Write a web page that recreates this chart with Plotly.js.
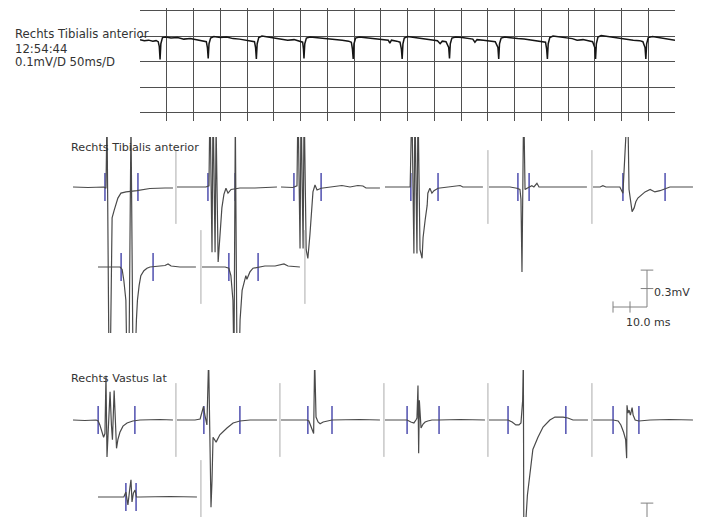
<!DOCTYPE html>
<html><head><meta charset="utf-8">
<script src="https://cdn.plot.ly/plotly-3.0.1.min.js"></script>
<style>html,body{margin:0;padding:0;background:#fff;}#chart{width:702px;height:517px;}</style>
</head><body><div id="chart"></div>
<script>
// ===== Overview sweep: Rechts Tibialis anterior, 0.1 mV/div, 50 ms/div =====
const overviewMs = [0,8,16,24,30,34,36,37.5,39,42,48,58,70,82,94,104,114,120,124,126,127.5,129,132,138,150,162,174,186,198,208,214,216,217.5,219,222,228,240,252,264,276,288,298,304,305.5,306.5,308,311,318,330,342,354,366,378,390,395,397,398.5,400,403,410,420,432,444,456,464,467,470,480,486,488.5,490,491.5,494,500,512,524,536,548,556,561,565,572,577,578.5,580,583,590,602,614,622,626,630,642,654,664,669,670.5,672,675,682,694,706,718,730,742,752,758,760,761.5,763,766,772,784,796,808,817,828,838,846,850,851.5,853,856,862,874,886,898,910,922,934,940,944,945.5,947,950,958,970,982,994,1000];
const overviewMv = [-0.014,-0.018,-0.016,-0.02,-0.018,-0.022,-0.04,-0.092,-0.03,-0.006,-0.004,-0.008,-0.006,-0.012,-0.01,-0.014,-0.016,-0.02,-0.022,-0.045,-0.088,-0.03,-0.008,-0.002,-0.006,-0.004,-0.01,-0.012,-0.016,-0.018,-0.022,-0.045,-0.09,-0.03,-0.006,0.0,-0.004,-0.008,-0.012,-0.016,-0.014,-0.02,-0.024,-0.05,-0.088,-0.03,-0.008,-0.004,-0.006,-0.01,-0.012,-0.014,-0.016,-0.02,-0.024,-0.05,-0.09,-0.03,-0.008,-0.004,-0.006,-0.01,-0.012,-0.014,-0.016,-0.028,-0.016,-0.02,-0.024,-0.05,-0.09,-0.03,-0.008,-0.002,-0.006,-0.008,-0.012,-0.016,-0.018,-0.03,-0.02,-0.022,-0.045,-0.088,-0.03,-0.008,-0.004,-0.006,-0.01,-0.012,-0.024,-0.014,-0.016,-0.018,-0.022,-0.045,-0.09,-0.03,-0.008,-0.004,-0.008,-0.01,-0.012,-0.016,-0.018,-0.022,-0.024,-0.05,-0.09,-0.03,-0.006,0.0,-0.004,-0.008,-0.01,-0.016,-0.014,-0.018,-0.022,-0.045,-0.09,-0.03,-0.004,0.002,-0.002,-0.006,-0.01,-0.012,-0.016,-0.018,-0.022,-0.045,-0.09,-0.03,-0.006,-0.002,-0.006,-0.01,-0.014,-0.016];
const overviewGridMvDiv = 0.1, overviewGridMsDiv = 50;

// ===== Rechts Tibialis anterior MUPs (ms, mV) =====
const tibA1_ms = [0,4.4,9.1,9.7,10.0,10.6,10.9,11.2,11.5,12.1,12.6,13.2,14.1,15.6,18.8,22.6,27.1,29.4];
const tibA1_mv = [0,-0.004,0,-0.01,0.6,-1.5,-1.6,-0.92,-0.25,-0.19,-0.15,-0.09,-0.05,-0.04,-0.03,-0.012,-0.008,-0.008];
const tibA1_marks = [9.4,19.1];
const tibA2_ms = [0,5.3,8.5,9.4,9.7,10.3,10.6,11.2,11.5,12.1,12.6,13.2,13.8,14.4,15.0,15.9,18.5,22.9,29.4];
const tibA2_mv = [0,0,0,0.01,0.7,-0.53,0.7,-0.53,0.5,-0.61,-0.39,-0.17,-0.06,-0.01,-0.05,-0.02,-0.008,-0.008,0];
const tibA2_marks = [9.1,17.1];
const tibA3_ms = [0,2.6,3.5,4.7,5.0,5.6,5.9,6.5,6.8,7.4,7.9,8.5,9.1,9.4,10.0,10.6,11.8,14.4,17.9,20.3,22.6,24.1,25.0,29.1];
const tibA3_mv = [0,0,-0.004,0.01,0.7,-0.5,0.7,-0.5,0.7,-0.51,-0.58,-0.39,-0.2,-0.04,0.016,-0.024,-0.01,0,0.012,0,0.012,0.008,-0.008,-0.008];
const tibA3_marks = [3.8,11.8];
const tibA4_ms = [0,5.9,7.4,7.9,8.5,8.8,9.4,9.7,10.3,10.9,11.2,11.8,12.4,12.6,13.2,13.8,14.4,15.6,19.1,21.2,22.1,22.9,28.8];
const tibA4_mv = [0,0,0,0.7,-0.54,0.7,-0.54,0.7,-0.51,-0.58,-0.41,-0.27,-0.15,-0.05,-0.01,-0.05,-0.03,-0.01,0,0.01,0.012,0,0];
const tibA4_marks = [7.6,15.6];
const tibA5_ms = [0,6.2,8.2,9.1,9.4,9.7,10.2,10.6,11.2,12.6,13.2,14.1,14.7,16.5,28.8];
const tibA5_mv = [0,0,-0.01,-0.02,-0.1,-0.69,0.7,-0.02,-0.01,0.01,0,0.03,0,0,0];
const tibA5_marks = [8.5,11.8];
const tibA6_ms = [0,2.1,2.9,3.8,6.5,7.9,8.8,9.4,9.8,10.2,10.6,11.2,11.5,12.1,12.6,13.2,14.4,15.3,16.8,18.2,19.7,21.2,22.6,25.6,29.4];
const tibA6_mv = [0,0,0.01,0,0,0,-0.05,0.3,0.7,0.7,-0.02,-0.15,-0.2,-0.17,-0.12,-0.09,-0.06,-0.04,-0.02,-0.04,-0.03,-0.016,0,0,0];
const tibA6_marks = [8.8,21.2];
const tibB1_ms = [0,3.5,6.5,7.1,7.6,8.2,8.5,9.1,9.7,10.3,10.9,11.3,11.6,12.1,12.6,13.5,14.4,15.3,18.2,19.7,20.6,21.5,24.1,28.8];
const tibB1_mv = [0,0,0,-0.02,-0.11,-0.27,-0.8,-0.8,1.2,-0.8,-0.8,-0.43,-0.27,-0.15,-0.07,-0.03,-0.01,0,0.008,0.012,0.025,0.008,0,0];
const tibB1_marks = [6.8,16.2];
const tibB2_ms = [0,6.8,7.9,8.5,9.1,9.4,9.8,10.3,10.9,11.2,11.8,12.4,12.9,13.2,14.1,15.0,16.5,18.5,21.5,24.1,25.3,28.8];
const tibB2_mv = [0,0,-0.01,-0.07,-0.27,-0.8,1.2,-0.8,-0.8,-0.43,-0.19,-0.12,-0.07,-0.1,-0.04,-0.01,0,0.008,0.008,0.025,0.008,0];
const tibB2_marks = [7.9,16.5];
const tibSeparatorAfter = [[true,false,false,true,true,false],[true,true]];

// ===== Rechts Vastus lat MUPs (ms, mV) =====
const vasA1_ms = [0,3.5,6.8,7.4,7.9,8.5,9.0,9.4,9.7,10.0,10.3,10.9,11.3,11.6,12.1,12.5,12.8,13.2,13.8,14.7,15.9,17.6,19.7,25.6,29.4];
const vasA1_mv = [0,-0.004,0,-0.008,-0.04,-0.1,-0.14,-0.11,0.36,-0.3,-0.08,0.23,-0.04,-0.16,0.24,-0.08,-0.23,-0.16,-0.1,-0.05,-0.024,-0.008,0,0.004,0];
const vasA1_marks = [7.4,18.2];
const vasA2_ms = [0,5.3,6.8,7.4,7.8,8.2,8.8,9.3,10.0,10.3,10.6,11.5,12.6,14.7,16.5,18.5,21.5,29.4];
const vasA2_mv = [0,0,0.008,0.065,0.11,0.04,-0.04,0.5,-0.71,-0.49,-0.14,-0.18,-0.12,-0.065,-0.024,-0.008,0,0];
const vasA2_marks = [7.9,18.5];
const vasA3_ms = [0,5.6,7.6,8.2,9.1,9.6,9.9,10.3,10.9,11.5,12.4,15.0,23.2,29.1];
const vasA3_mv = [0,0,0,-0.008,-0.08,-0.11,0.5,0.024,-0.016,-0.03,-0.016,0,0.004,0];
const vasA3_marks = [7.9,15.0];
const vasA4_ms = [0,4.4,6.5,7.6,8.5,9.1,9.4,9.7,9.9,10.1,10.6,11.2,11.8,12.6,13.8,15.9,22.1,29.4];
const vasA4_mv = [0,0,0,-0.016,-0.024,0,0.016,0.28,-0.27,0.16,-0.065,-0.033,-0.016,-0.008,0,0,0.004,0];
const vasA4_marks = [6.5,15.9];
const vasA5_ms = [0,3.2,5.6,6.8,7.9,8.8,9.4,9.9,10.1,10.3,10.6,10.9,11.3,12.1,12.9,14.4,15.9,17.9,19.4,21.8,23.2,24.7,29.1];
const vasA5_mv = [0,0,0,-0.016,-0.04,-0.04,-0.024,0.16,0.5,-1.5,-1.14,-0.79,-0.61,-0.41,-0.24,-0.14,-0.057,0,0.024,0.024,0.016,0,0];
const vasA5_marks = [5.6,22.6];
const vasA6_ms = [0,3.5,5.9,7.4,8.2,9.0,9.6,9.9,10.0,10.3,10.6,11.0,11.5,11.8,12.4,13.5,16.8,22.6,29.4];
const vasA6_mv = [0,0,0,-0.008,-0.04,-0.1,-0.16,-0.31,0.12,0.057,0.08,0.04,0.1,0.04,0,-0.008,0,0.004,0];
const vasA6_marks = [5.9,13.5];
const vasB1_ms = [0,5.0,7.6,8.2,8.8,9.4,9.7,10.0,10.4,10.9,11.3,12.4,21.2,29.1];
const vasB1_mv = [0,0,0,0.04,-0.065,0.08,0.14,-0.04,0.03,0.057,0,0,0.004,0];
const vasB1_marks = [8.2,11.2];
const vasSeparatorAfter = [[true,true,true,true,true,false],[true]];

// calibration bar
const scaleBarMs = 10, scaleBarMv = 0.3;
const separatorMs = 30.3, separatorHalfMv = 0.3;

// ===== texts =====
const headerLines = ['Rechts Tibialis anterior','12:54:44','0.1mV/D 50ms/D'];
const sectionTitles = ['Rechts Tibialis anterior','Rechts Vastus lat'];

// ================= layout machinery =================
const W = 702, H = 517;
const PX_MS = 3.4, PX_MV = 123, COL_PITCH = 104;
const xdom = (a,b) => [Math.max(0,a/W), Math.min(1,b/W)];
const ydom = (top,bot) => [Math.max(0,1-bot/H), Math.min(1,1-top/H)];
const traces = [];
const layout = {width:W,height:H,margin:{l:0,r:0,t:0,b:0},paper_bgcolor:'#ffffff',plot_bgcolor:'rgba(0,0,0,0)',showlegend:false,annotations:[],hovermode:false};
let axN = 0;
function addAxes(xd, yd, xr, yr, ex, ey){
  axN++;
  const s = axN===1 ? '' : String(axN);
  layout['xaxis'+s] = Object.assign({domain:xd,range:xr,visible:false,fixedrange:true,anchor:'y'+s}, ex||{});
  layout['yaxis'+s] = Object.assign({domain:yd,range:yr,visible:false,fixedrange:true,anchor:'x'+s}, ey||{});
  return {x:'x'+s, y:'y'+s};
}

// --- overview panel ---
const ovTickMs = []; for (let t = overviewGridMsDiv; t < 1000; t += overviewGridMsDiv) ovTickMs.push(t);
const ovTickMv = []; for (let k = 1; k >= -3; k--) ovTickMv.push(+(k*overviewGridMvDiv).toFixed(2));
const gridStyle = {visible:true,showgrid:true,gridcolor:'#4f4f4f',gridwidth:1,tickmode:'array',showticklabels:false,ticks:'',zeroline:false,showline:false};
const ov = addAxes(xdom(140,675), ydom(8,121), [0,1000], [-0.333,0.11],
  Object.assign({}, gridStyle, {tickvals:ovTickMs}), Object.assign({}, gridStyle, {tickvals:ovTickMv}));
traces.push({type:'scatter',mode:'lines',x:overviewMs,y:overviewMv,xaxis:ov.x,yaxis:ov.y,line:{color:'#151515',width:1.5}});

// --- MUP sections ---
const sections = [
  {topPx:137, botPx:333, rows:[{base:187,start:73},{base:267,start:98}], sep:tibSeparatorAfter,
   wins:[[[tibA1_ms,tibA1_mv,tibA1_marks],[tibA2_ms,tibA2_mv,tibA2_marks],[tibA3_ms,tibA3_mv,tibA3_marks],[tibA4_ms,tibA4_mv,tibA4_marks],[tibA5_ms,tibA5_mv,tibA5_marks],[tibA6_ms,tibA6_mv,tibA6_marks]],
         [[tibB1_ms,tibB1_mv,tibB1_marks],[tibB2_ms,tibB2_mv,tibB2_marks]]],
   title:sectionTitles[0], titleY:147, scaleCorner:[647,307], labels:true},
  {topPx:370, botPx:566, rows:[{base:420,start:73},{base:497,start:98}], sep:vasSeparatorAfter,
   wins:[[[vasA1_ms,vasA1_mv,vasA1_marks],[vasA2_ms,vasA2_mv,vasA2_marks],[vasA3_ms,vasA3_mv,vasA3_marks],[vasA4_ms,vasA4_mv,vasA4_marks],[vasA5_ms,vasA5_mv,vasA5_marks],[vasA6_ms,vasA6_mv,vasA6_marks]],
         [[vasB1_ms,vasB1_mv,vasB1_marks]]],
   title:sectionTitles[1], titleY:378, scaleCorner:[647,540], labels:false}
];

sections.forEach(sec => {
  const bot = Math.min(sec.botPx, H);
  sec.rows.forEach((row, r) => {
    sec.wins[r].forEach((w, c) => {
      const s = row.start + c*COL_PITCH;
      const ax = addAxes(xdom(s-0.5*PX_MS, s+30.5*PX_MS), ydom(sec.topPx, bot), [-0.5,30.5],
        [-(bot-row.base)/PX_MV, (row.base-sec.topPx)/PX_MV]);
      if (sec.sep[r][c]) {
        traces.push({type:'scatter',mode:'lines',x:[separatorMs,separatorMs],y:[-separatorHalfMv,separatorHalfMv],xaxis:ax.x,yaxis:ax.y,line:{color:'#9c9c9c',width:1}});
      }
      traces.push({type:'scatter',mode:'markers',x:w[2],y:w[2].map(()=>0),xaxis:ax.x,yaxis:ax.y,cliponaxis:false,
        marker:{symbol:'line-ns',size:20,color:'#5a5ab4',line:{color:'#5a5ab4',width:1.6}}});
      traces.push({type:'scatter',mode:'lines',x:w[0],y:w[1],xaxis:ax.x,yaxis:ax.y,line:{color:'#4a4a4a',width:1.2}});
    });
  });
  // calibration bar
  const [cx, cy] = sec.scaleCorner;
  const sTop = cy - 57, sBot = Math.min(cy + 33, H);
  const ax = addAxes(xdom(600,702), ydom(sTop, sBot), [-(cx-600)/PX_MS, (702-cx)/PX_MS], [-(sBot-cy)/PX_MV, (cy-sTop)/PX_MV]);
  traces.push({type:'scatter',mode:'lines',x:[-scaleBarMs,0,0],y:[0,0,scaleBarMv],xaxis:ax.x,yaxis:ax.y,line:{color:'#808080',width:1}});
  traces.push({type:'scatter',mode:'markers',x:[-scaleBarMs,-scaleBarMs/2],y:[0,0],xaxis:ax.x,yaxis:ax.y,cliponaxis:false,
    marker:{symbol:'line-ns',size:8,line:{color:'#808080',width:1}}});
  traces.push({type:'scatter',mode:'markers',x:[0,0],y:[scaleBarMv/2,scaleBarMv],xaxis:ax.x,yaxis:ax.y,cliponaxis:true,
    marker:{symbol:'line-ew',size:9,line:{color:'#808080',width:1}}});
  if (sec.labels) {
    layout.annotations.push({xref:ax.x,yref:ax.y,x:1.6,y:0.114,xanchor:'left',yanchor:'middle',showarrow:false,text:scaleBarMv+'mV',font:{family:'DejaVu Sans',size:11,color:'#333'}});
    layout.annotations.push({xref:ax.x,yref:ax.y,x:0.3,y:-0.122,xanchor:'center',yanchor:'middle',showarrow:false,text:scaleBarMs.toFixed(1)+' ms',font:{family:'DejaVu Sans',size:11,color:'#333'}});
  }
  layout.annotations.push({xref:'paper',yref:'paper',x:69/W,y:1-sec.titleY/H,xanchor:'left',yanchor:'middle',showarrow:false,text:sec.title,font:{family:'DejaVu Sans',size:11.2,color:'#333'}});
});

// header text
[34.5,49,62.5].forEach((py,i) => {
  layout.annotations.push({xref:'paper',yref:'paper',x:13/W,y:1-py/H,xanchor:'left',yanchor:'middle',showarrow:false,text:headerLines[i],font:{family:'DejaVu Sans',size:11.7,color:'#333'}});
});

Plotly.newPlot('chart', traces, layout, {staticPlot:true,displayModeBar:false});
</script></body></html>
